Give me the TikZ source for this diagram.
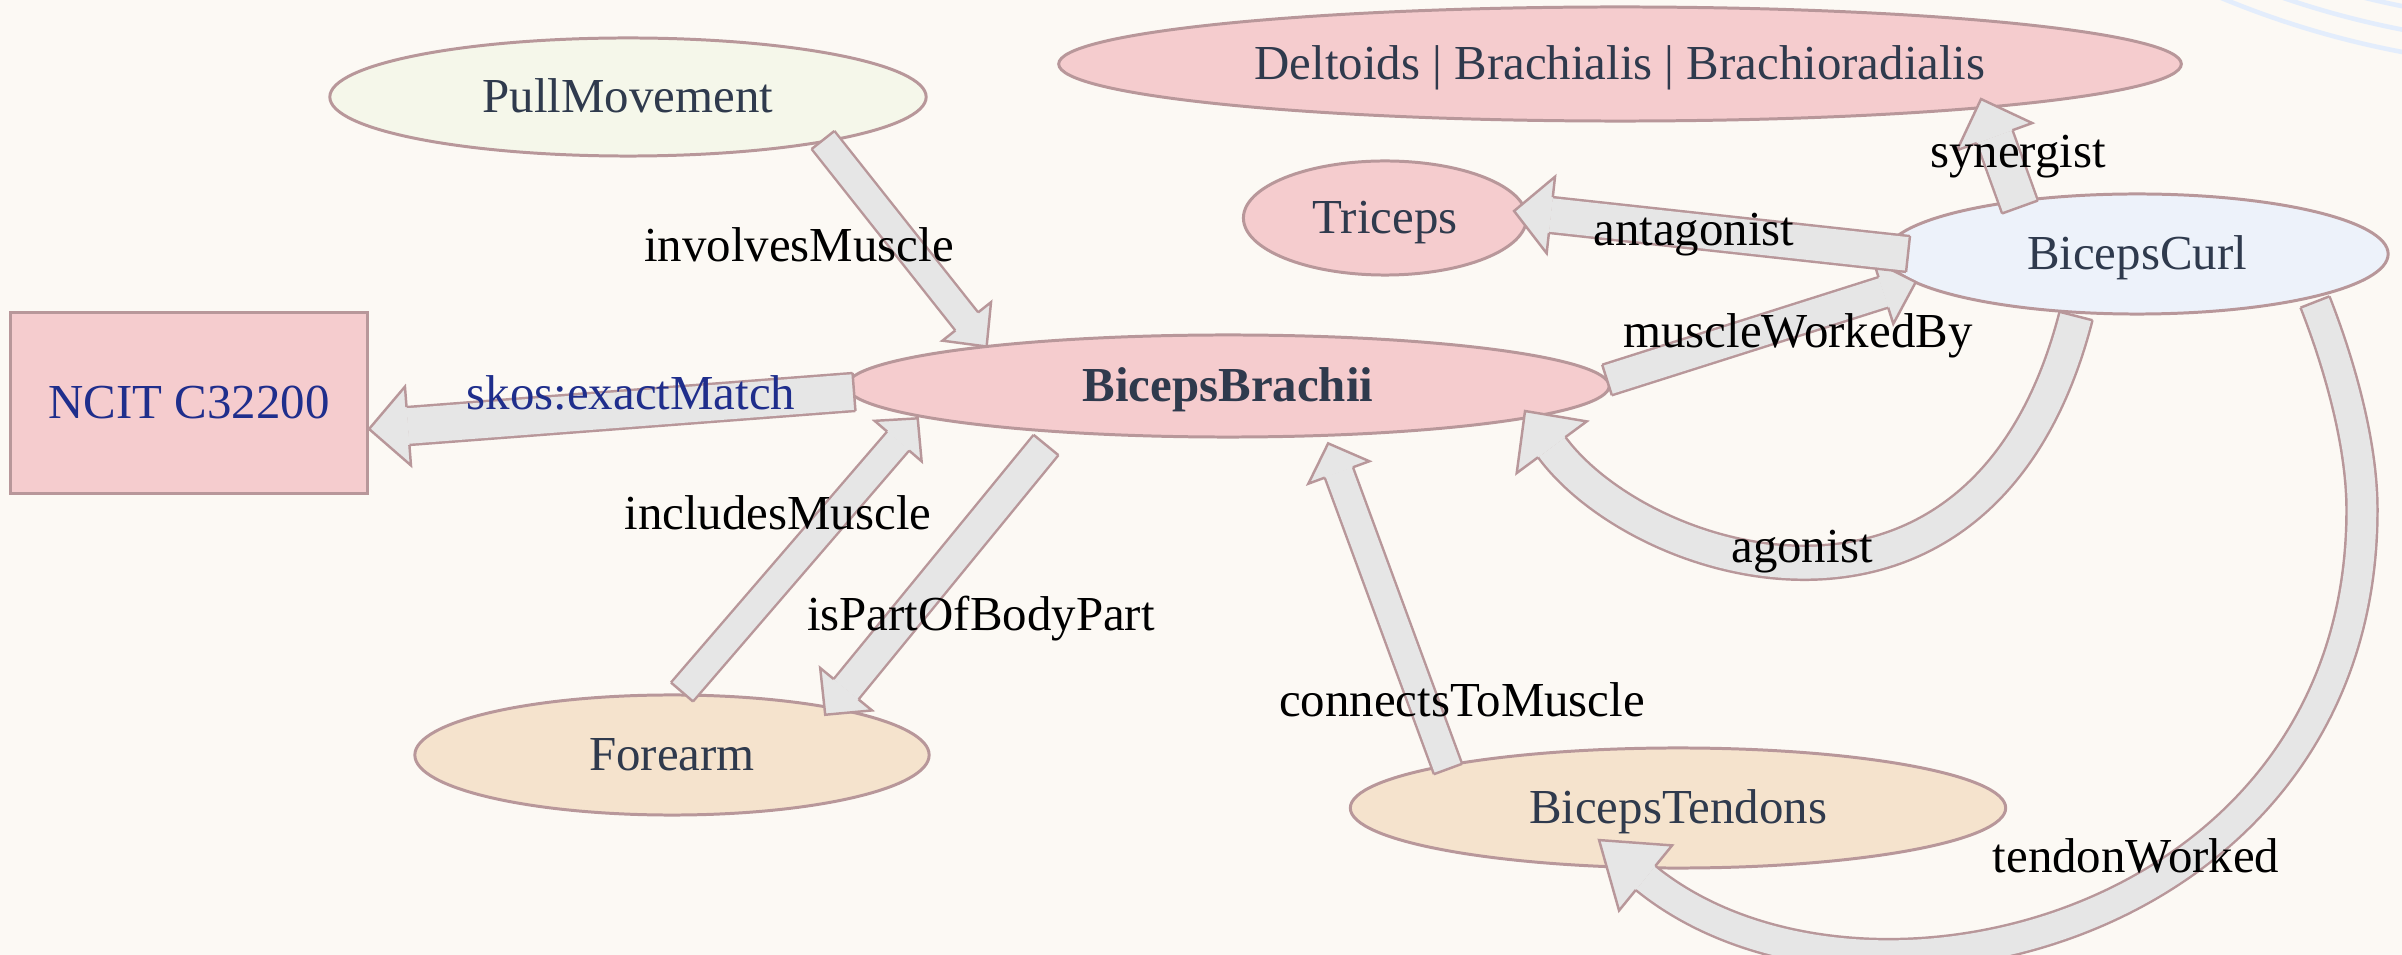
\documentclass[tikz,border=0pt]{standalone}
\usepackage{fontspec}
\setmainfont{Liberation Serif}
\usetikzlibrary{shapes.geometric,decorations.markings,calc}

\definecolor{bgcol}{HTML}{FCF9F4}
\definecolor{rosefill}{HTML}{F5CCCE}
\definecolor{sagefill}{HTML}{F5F7EA}
\definecolor{skyfill}{HTML}{EDF2FA}
\definecolor{sandfill}{HTML}{F5E3CD}
\definecolor{rim}{HTML}{B8979A}
\definecolor{ink}{HTML}{2F3A4D}
\definecolor{navy}{HTML}{1F2E8C}
\definecolor{bandfill}{HTML}{E6E6E6}
\definecolor{ripple}{HTML}{E3EDFC}

\tikzset{
  every node/.style={font=\fontsize{13.9}{16}\selectfont},
  concept/.style={ellipse, draw=rim, line width=0.85pt, text=ink, inner sep=0pt,
    text height=0.32cm, text depth=0.02cm},
  extbox/.style={rectangle, draw=rim, line width=0.85pt, fill=rosefill, text=navy,
    inner sep=0pt, text height=0.32cm, text depth=0.02cm},
  rel/.style={anchor=base, text=black, inner sep=0pt},
  % fat block arrow: #1 shaft width, #2 head width, #3 head length (all in px)
  fat/.style n args={3}{
    postaction={draw=rim, line width=0.7pt, double=bandfill,
      double distance={#1*0.2845pt-0.7pt}, shorten >={#3*0.2845pt}},
    postaction={decorate, decoration={markings,
      mark=at position 0 with {\draw[rim, line width=0.7pt] (0,#1/2) -- (0,-#1/2);},
      mark=at position 0.9999 with {
        \fill[bandfill] (0,0) -- (-#3,#2/2) -- (-#3,-#2/2) -- cycle;
        \draw[rim, line width=0.7pt] (-#3,#1/2) -- (-#3,#2/2) -- (0,0)
          -- (-#3,-#2/2) -- (-#3,-#1/2);}}}
  }
}

\begin{document}
\begin{tikzpicture}[x=0.01cm, y=-0.01cm]
  \useasboundingbox (0,0) rectangle (2402,955);
  \fill[bgcol] (0,0) rectangle (2402,955);

  % faint ripple arcs in the upper right corner
  \begin{scope}
    \clip (0,0) rectangle (2402,955);
    \foreach \r in {875,898,920}
      \draw[ripple, line width=1.3pt] (2574,-852) circle [radius=\r];
  \end{scope}

  % concepts
  \node[concept, fill=sagefill, minimum width=5.96cm, minimum height=1.18cm] (pull) at (628,97) {PullMovement};
  \node[extbox, minimum width=3.56cm, minimum height=1.8cm] (ncit) at (189,403) {NCIT C32200};
  \node[concept, fill=rosefill, minimum width=11.22cm, minimum height=1.14cm] (delt) at (1620,64) {Deltoids | Brachialis | Brachioradialis};
  \node[concept, fill=rosefill, minimum width=2.83cm, minimum height=1.14cm] (tri) at (1385,218) {Triceps};
  \node[concept, fill=skyfill, minimum width=5.02cm, minimum height=1.2cm] (curl) at (2137,254) {BicepsCurl};
  \node[concept, fill=rosefill, minimum width=7.62cm, minimum height=1.02cm, font=\fontsize{13.9}{16}\selectfont\bfseries] (brachii) at (1228,386) {BicepsBrachii};
  \node[concept, fill=sandfill, minimum width=5.14cm, minimum height=1.2cm] (forearm) at (672,755) {Forearm};
  \node[concept, fill=sandfill, minimum width=6.55cm, minimum height=1.2cm] (tendons) at (1678,808) {BicepsTendons};

  \coordinate (twbend) at (2362,510);

  % relations
  \path[fat={29}{62}{32}] ($(pull)+(195,43)$) -- ($(brachii)+(-241,-39)$);
  \path[fat={38}{79}{39}] ($(brachii)+(-374,6)$) -- ($(ncit)+(180,26)$);
  \path[fat={29}{62}{30}] ($(forearm)+(10,-63)$) -- ($(brachii)+(-310,32)$);
  \path[fat={32}{67}{33}] ($(brachii)+(-182,59)$) -- ($(forearm)+(153,-40)$);
  \path[fat={32}{66}{34}] ($(brachii)+(379,-6)$) -- ($(curl)+(-221,28)$);
  \path[fat={36}{77}{37}] ($(curl)+(-229,0)$) -- ($(tri)+(129,-7)$);
  \path[fat={38}{80}{40}] ($(curl)+(-117,-47)$) -- ($(delt)+(361,35)$);
  \path[fat={34}{87}{45}] ($(curl)+(-61,62)$) .. controls +(-92,359) and +(118,160) .. ($(brachii)+(297,25)$);
  \path[fat={30}{65}{31}] ($(tendons)+(-230,-39)$) -- ($(brachii)+(100,57)$);
  \path[fat={31}{84}{60}] ($(curl)+(178,48)$) .. controls +(22,56) and +(0,-70) .. (twbend)
    .. controls +(0,420) and +(260,212) .. ($(tendons)+(-79,32)$);

  % relation labels
  \node[rel] (l1) at (799,262) {involvesMuscle};
  \node[rel, text=navy] (l2) at (631,410) {skos:exactMatch};
  \node[rel] (l3) at (778,530) {includesMuscle};
  \node[rel] (l4) at (981,631) {isPartOfBodyPart};
  \node[rel] (l5) at (1798,348) {muscleWorkedBy};
  \node[rel] (l6) at (1694,246) {antagonist};
  \node[rel] (l7) at (2018,168) {synergist};
  \node[rel] (l8) at (1802,563) {agonist};
  \node[rel] (l9) at (1462,717) {connectsToMuscle};
  \node[rel] (l10) at (2136,873) {tendonWorked};
\end{tikzpicture}
\end{document}
